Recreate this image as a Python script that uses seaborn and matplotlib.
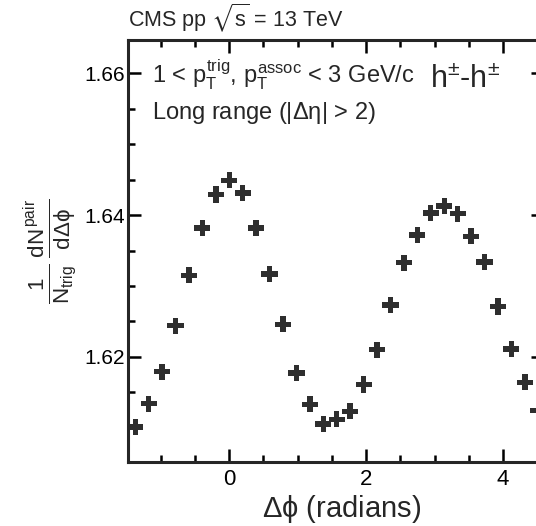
# IMPORT MODULES
import numpy as np
import matplotlib
matplotlib.use("Agg")
import matplotlib.pyplot as plt
import seaborn as sns
import pandas as pd
from matplotlib.ticker import MultipleLocator, FormatStrFormatter

# DATA
bin_index = list(range(-7, 24))   # bins of pi/16
dndphi = [1.6101, 1.6134, 1.6179, 1.6244, 1.6315, 1.6382, 1.6429, 1.6449,
          1.6431, 1.6382, 1.6317, 1.6246, 1.6177, 1.6133, 1.6105, 1.6112,
          1.6123, 1.6161, 1.6210, 1.6273, 1.6333, 1.6372, 1.6403, 1.6413,
          1.6402, 1.6370, 1.6334, 1.6271, 1.6211, 1.6164, 1.6124]
dphi = [k * np.pi / 16 for k in bin_index]

df = pd.DataFrame({"dphi": dphi, "yield": dndphi})

# STYLE
sns.set_style("ticks")
plt.rcParams["font.family"] = ["Liberation Sans", "DejaVu Sans"]
plt.rcParams["mathtext.fontset"] = "custom"
plt.rcParams["mathtext.rm"] = "Liberation Sans"
plt.rcParams["mathtext.it"] = "Liberation Sans"
plt.rcParams["mathtext.sf"] = "Liberation Sans"
plt.rcParams["mathtext.fallback"] = "stixsans"

fig = plt.figure(figsize=(5.36, 5.26), dpi=100)
ax = fig.add_axes([0.2394, 0.1222, 0.7756, 0.8017])

# PLOT THE CORRELATION
sns.scatterplot(data=df, x="dphi", y="yield", marker="P", s=135,
                color="#2e2e2e", edgecolor="none", ax=ax)

ax.set_xlim(-1.475, 4.6)
ax.set_ylim(1.6052, 1.6647)
ax.xaxis.set_major_locator(MultipleLocator(2))
ax.xaxis.set_minor_locator(MultipleLocator(0.5))
ax.yaxis.set_major_locator(MultipleLocator(0.02))
ax.yaxis.set_minor_locator(MultipleLocator(0.005))
ax.yaxis.set_major_formatter(FormatStrFormatter("%.2f"))

for s in ax.spines.values():
    s.set_linewidth(2.2)
    s.set_visible(True)
ax.tick_params(which="both", direction="in", top=True, right=True,
               width=1.8, colors="black")
ax.tick_params(which="major", length=9.5)
ax.tick_params(which="minor", length=5)
ax.tick_params(axis="y", pad=2.5, labelsize=15)
ax.tick_params(axis="x", pad=5, labelsize=16)

ax.set_xlabel(r"$\Delta\phi$ (radians)", fontsize=21)
ax.xaxis.set_label_coords(0.514, -0.074)
ax.set_ylabel(r"$\frac{1}{N_{trig}}\,\frac{dN^{pair}}{d\Delta\phi}$",
              fontsize=23, labelpad=4)

# TEXT
fig.text(128 / 536, 1 - 18 / 526, r"CMS pp $\sqrt{s}$ = 13 TeV",
         fontsize=15.5, va="center", ha="left")
ax.text(0.057, 0.898, r"1 < $p_{T}^{trig}$, $p_{T}^{assoc}$ < 3 GeV/c",
        transform=ax.transAxes, fontsize=17, va="baseline", ha="left")
ax.text(0.726, 0.886, r"h$^{\pm}$-h$^{\pm}$",
        transform=ax.transAxes, fontsize=22, va="baseline", ha="left")
ax.text(0.057, 0.812, r"Long range (|$\Delta\eta$| > 2)",
        transform=ax.transAxes, fontsize=17, va="baseline", ha="left")

plt.savefig("out.png", dpi=100)
